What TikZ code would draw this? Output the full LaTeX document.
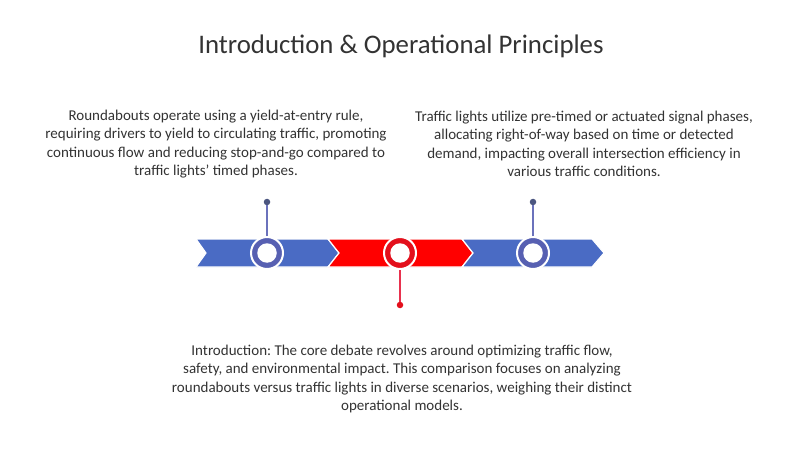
\documentclass[tikz,border=0pt]{standalone}
\usepackage{fontspec}
\setmainfont{Carlito}
\frenchspacing
\definecolor{bandblue}{HTML}{4A6BC4}
\definecolor{bandred}{HTML}{FF0000}
\definecolor{ringblue}{HTML}{5760B2}
\definecolor{ringred}{HTML}{E3101C}
\definecolor{pinblue}{HTML}{6B72BC}
\definecolor{pinred}{HTML}{E8324E}
\definecolor{dotblue}{HTML}{4C5680}
\definecolor{txt}{HTML}{333333}
\tikzset{
  chev/.style={draw=white, line width=1.2pt, line join=miter},
  ring/.style={circle, draw=white, line width=2pt, fill=#1, minimum size=32pt, inner sep=0pt},
  hole/.style={circle, fill=white, minimum size=19.5pt, inner sep=0pt},
  dot/.style={circle, fill=#1, minimum size=6.5pt, inner sep=0pt},
  pin/.style={draw=#1, line width=1.2pt},
  body/.style={align=center, font=\fontsize{15}{18.3}\selectfont, text=txt, inner sep=0pt},
}
\begin{document}
\begin{tikzpicture}[x=1pt, y=-1pt]
\useasboundingbox[fill=white] (0,0) rectangle (800,449);
\node[font=\fontsize{26.8}{30}\selectfont, text=txt] (title) at (401,46) {Introduction \& Operational Principles};
% chevrons
\fill[bandblue, chev] (196,239) -- (328,239) -- (339,253) -- (328,267) -- (196,267) -- (206,253) -- cycle;
\fill[bandred, chev] (328,239) -- (462,239) -- (473,253) -- (462,267) -- (328,267) -- (339,253) -- cycle;
\fill[bandblue, chev] (462,239) -- (592,239) -- (604,253) -- (592,267) -- (462,267) -- (473,253) -- cycle;
% pins
\node[dot=dotblue] (d1) at (267,202) {};
\node[dot=dotblue] (d3) at (533,202) {};
\node[dot=ringred] (d2) at (400,305) {};
\node[ring=ringblue] (c1) at (267,253) {};
\node[ring=ringred] (c2) at (400,253) {};
\node[ring=ringblue] (c3) at (533,253) {};
\draw[pin=pinblue] (c1.north) -- (d1);
\draw[pin=pinblue] (c3.north) -- (d3);
\draw[pin=pinred] (c2.south) -- (d2);
\node[hole] (h1) at (c1) {};
\node[hole] (h2) at (c2) {};
\node[hole] (h3) at (c3) {};
% texts
\node[body] (t1) at (216,144) {Roundabouts operate using a yield-at-entry rule,\\requiring drivers to yield to circulating traffic, promoting\\continuous flow and reducing stop-and-go compared to\\traffic lights' timed phases.};
\node[body] (t3) at (584,144) {Traffic lights utilize pre-timed or actuated signal phases,\\allocating right-of-way based on time or detected\\demand, impacting overall intersection efficiency in\\various traffic conditions.};
\node[body] (t2) at (402,379) {Introduction: The core debate revolves around optimizing traffic flow,\\safety, and environmental impact. This comparison focuses on analyzing\\roundabouts versus traffic lights in diverse scenarios, weighing their distinct\\operational models.};
\end{tikzpicture}
\end{document}
